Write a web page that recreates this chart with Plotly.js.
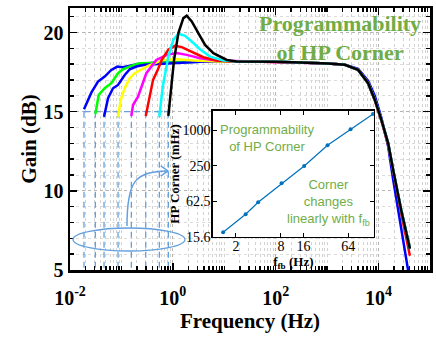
<!DOCTYPE html>
<html><head><meta charset="utf-8">
<script src="https://cdn.plot.ly/plotly-3.0.1.min.js"></script>
<style>html,body{margin:0;padding:0;background:#fff}#chart{width:436px;height:337px}</style>
</head><body><div id="chart"></div>
<script>
// ---------- data ----------
const curveColors = ['#0000FF', '#00FF00', '#0000FF', '#FFFF00', '#FF00FF', '#FF0000', '#00FFFF', '#000000'];

// low-frequency (high-pass) part of each curve: Hz, dB
const lowF1 = [0.0187, 0.026, 0.035, 0.0473, 0.0636, 0.0832, 0.107, 0.145, 0.21, 0.329, 0.515, 3.4];
const lowG1 = [15.15, 16.2, 16.9, 17.22, 17.64, 17.85, 17.81, 17.89, 18.02, 18.06, 18.1, 18.15];
const lowF2 = [0.0311, 0.0362, 0.0473, 0.0636, 0.0859, 0.107, 0.156, 0.227, 3.4];
const lowG2 = [14.85, 16.06, 16.48, 16.8, 17.43, 17.68, 17.89, 18.06, 18.15];
const lowF3 = [0.0459, 0.0549, 0.0686, 0.0859, 0.116, 0.145, 0.195, 0.284, 3.4];
const lowG3 = [14.68, 15.85, 16.48, 16.69, 17.32, 17.68, 17.85, 17.96, 18.15];
const lowF4 = [0.0859, 0.0969, 0.116, 0.145, 0.1815, 0.244, 0.329, 0.4775, 0.653, 1.19, 2.5, 7.15];
const lowG4 = [14.68, 15.74, 16.48, 17.11, 17.43, 17.64, 17.89, 18.1, 18.27, 18.32, 18.23, 18.17];
const lowF5 = [0.156, 0.168, 0.21, 0.263, 0.305, 0.382, 0.4775, 0.761, 1.19, 1.86, 3.38, 7.15];
const lowG5 = [14.73, 15.42, 15.95, 16.8, 17.43, 17.85, 18.27, 18.59, 18.7, 18.59, 18.38, 18.23];
const lowF6 = [0.297, 0.34, 0.412, 0.499, 0.608, 0.817, 1.10, 1.49, 2.33, 3.92, 7.15, 13];
const lowG6 = [14.73, 15.74, 17.01, 17.58, 18.27, 18.91, 19.16, 19.08, 18.8, 18.44, 18.23, 18.17];
const lowF7 = [0.546, 0.636, 0.817, 1.02, 1.28, 1.73, 2.33, 3.38, 5.29, 9.6, 17.5];
const lowG7 = [14.68, 16.58, 18.48, 19.54, 19.92, 19.79, 19.43, 18.95, 18.48, 18.23, 18.17];
const lowF8 = [0.817, 0.91, 1.055, 1.28, 1.6, 1.86, 2.33, 3.13, 4.23, 6.14, 11.2, 17.5];
const lowG8 = [14.73, 16.16, 18.27, 19.96, 20.91, 21.06, 20.7, 19.96, 19.22, 18.7, 18.27, 18.17];

// high-frequency (roll-off) part, shared frequencies
const highF = [30, 100, 300, 1046, 2210, 4010, 6277, 8472, 11390, 15370, 19230, 27530, 40630];
const highGBlack = [18.17, 18.15, 18.1, 18.05, 17.96, 17.64, 16.8, 15.74, 14.47, 13.0, 11.31, 8.78, 6.35];
const highGBlue = [18.17, 18.15, 18.1, 18.05, 17.97, 17.7, 16.95, 16.0, 14.6, 12.8, 10.7, 7.8, 4.3];
const highGGreen = [18.17, 18.15, 18.1, 18.05, 17.96, 17.64, 16.8, 15.74, 14.47, 13.0, 11.31, 8.8, 6.45];
const highGRed = [18.17, 18.15, 18.1, 18.05, 17.96, 17.64, 16.8, 15.7, 14.4, 12.9, 11.2, 8.6, 5.9];

const cornerGain = 15;   // dB level of the dashed corner markers
const axisFloor = 5;

// inset: feedback frequency vs HP corner
const fFb = [1.35, 2.7, 3.97, 8.17, 16.4, 33.7, 68.5, 137];
const hpCorner = [18.7, 37.8, 60.2, 126, 248, 556, 1037, 1877];

const xTickVals = [0.01, 1, 100, 10000];
const xTickText = ['10<sup>-2</sup>', '10<sup>0</sup>', '10<sup>2</sup>', '10<sup>4</sup>'];
const yTickVals = [5, 10, 15, 20];
const insetXTicks = [2, 8, 16, 64];
const insetYTicks = [15.6, 62.5, 250, 1000];
const insetYText = ['15.6', '62.5', '250', '1000'];

// ---------- build ----------
const lowFs = [lowF1, lowF2, lowF3, lowF4, lowF5, lowF6, lowF7, lowF8];
const lowGs = [lowG1, lowG2, lowG3, lowG4, lowG5, lowG6, lowG7, lowG8];
const highGs = [highGBlue, highGGreen, highGBlack, highGBlack, highGBlack, highGRed, highGBlack, highGBlack];

const serif = 'Liberation Serif, Times New Roman, serif';
const dashColor = 'rgb(100,160,222)';
const green = '#70AD47';

const traces = [];
// dashed corner markers
const startF = lowFs.map(a => a[0]);
const dX = [], dY = [];
startF.forEach(f => { dX.push(f, f, null); dY.push(cornerGain, axisFloor, null); });
dX.push(Math.min(...startF), Math.max(...startF));
dY.push(cornerGain, cornerGain);
traces.push({x: dX, y: dY, mode: 'lines', line: {color: dashColor, width: 1.3, dash: '6px,4px'},
  hoverinfo: 'skip', showlegend: false, xaxis: 'x', yaxis: 'y'});

for (let i = 0; i < 8; i++) {
  traces.push({
    x: lowFs[i].concat(highF), y: lowGs[i].concat(highGs[i]),
    mode: 'lines', line: {color: curveColors[i], width: 2.5},
    showlegend: false, xaxis: 'x', yaxis: 'y'
  });
}
traces.push({x: fFb, y: hpCorner, mode: 'lines+markers', line: {color: '#0072BD', width: 1.2},
  marker: {size: 4, color: '#0072BD'}, showlegend: false, xaxis: 'x2', yaxis: 'y2'});

const minorX = [];
for (let d = -2; d <= 4; d++) for (let k = 1; k <= 9; k++) {
  if (k === 1 && d % 2 === 0) continue;
  minorX.push(k * Math.pow(10, d));
}

const tf = (size, bold) => ({family: serif, size: size, color: '#000', weight: bold ? 'bold' : 'normal'});

const layout = {
  width: 436, height: 337,
  margin: {l: 70, r: 6, t: 8, b: 67},
  paper_bgcolor: '#fff', plot_bgcolor: '#fff',
  showlegend: false,
  xaxis: {
    type: 'log', range: [-2, 5], domain: [0, 1], anchor: 'y',
    tickmode: 'array', tickvals: xTickVals, ticktext: xTickText,
    ticks: 'inside', ticklen: 7, tickwidth: 1.5, tickcolor: '#000',
    showline: true, linewidth: 2.5, linecolor: '#000', mirror: 'ticks',
    showgrid: true, gridcolor: '#b4b4b4', griddash: 'dot', gridwidth: 1.2, zeroline: false,
    tickfont: tf(20, true), ticklabelstandoff: 8,
    title: {text: 'Frequency (Hz)', font: tf(21, true), standoff: 6},
    minor: {tickmode: 'array', tickvals: minorX, ticks: 'inside', ticklen: 4, tickcolor: '#000',
      showgrid: true, gridcolor: '#d2d2d2', griddash: 'dot', gridwidth: 1}
  },
  yaxis: {
    range: [5, 21.55], domain: [0, 1], anchor: 'x',
    tickmode: 'array', tickvals: yTickVals,
    ticks: 'inside', ticklen: 7, tickwidth: 1.5, tickcolor: '#000',
    showline: true, linewidth: 2.5, linecolor: '#000', mirror: 'ticks',
    showgrid: true, gridcolor: '#b4b4b4', griddash: 'dot', gridwidth: 1.2, zeroline: false,
    tickfont: tf(20, true),
    title: {text: 'Gain (dB)', font: tf(21, true), standoff: 1},
    minor: {dtick: 1, ticks: 'inside', ticklen: 4, tickcolor: '#000',
      showgrid: true, gridcolor: '#dcdcdc', griddash: 'dot', gridwidth: 1}
  },
  xaxis2: {
    type: 'log', range: [-0.0066, 2.147], domain: [0.397, 0.844], anchor: 'y2',
    tickmode: 'array', tickvals: insetXTicks,
    ticks: 'inside', ticklen: 4, tickcolor: '#000',
    showline: true, linewidth: 1.5, linecolor: '#000', mirror: 'ticks',
    showgrid: false, zeroline: false, tickfont: tf(14, false), ticklabelstandoff: -4,
    title: {text: 'f<sub>fb</sub> (Hz)', font: tf(13, true), standoff: 0}
  },
  yaxis2: {
    type: 'log', range: [1.193, 3.324], domain: [0.126, 0.607], anchor: 'x2',
    tickmode: 'array', tickvals: insetYTicks, ticktext: insetYText,
    ticks: 'inside', ticklen: 4, tickcolor: '#000',
    showline: true, linewidth: 1.5, linecolor: '#000', mirror: 'ticks',
    showgrid: false, zeroline: false, tickfont: tf(14, false), ticklabelstandoff: -2,
    title: {text: 'HP Corner (mHz)', font: tf(13, true), standoff: 0}
  },
  shapes: [
    {type: 'circle', xref: 'paper', yref: 'paper', x0: 0.0083, x1: 0.3194, y0: 0.0725, y1: 0.1603,
      line: {color: dashColor, width: 1.3}},
    {type: 'path', xref: 'paper', yref: 'paper',
      path: 'M 0.1583 0.1679 C 0.1583 0.3435 0.1806 0.374 0.2722 0.3779',
      line: {color: dashColor, width: 1.5}},
    {type: 'path', xref: 'paper', yref: 'paper',
      path: 'M 0.252 0.397 L 0.2722 0.3779 L 0.252 0.3588',
      line: {color: dashColor, width: 1.5}}
  ],
  annotations: [
    {xref: 'paper', yref: 'paper', x: 0.75, y: 0.887, xanchor: 'center', yanchor: 'middle',
      text: 'Programmability<br>of HP Corner', showarrow: false,
      font: {family: serif, size: 22, color: green, weight: 'bold'}},
    {xref: 'paper', yref: 'paper', x: 0.547, y: 0.5057, xanchor: 'center', yanchor: 'middle',
      text: 'Programmability<br>of HP Corner', showarrow: false,
      font: {family: 'Liberation Sans Narrow, Arial Narrow, Liberation Sans, sans-serif', size: 13, color: green}},
    {xref: 'paper', yref: 'paper', x: 0.7167, y: 0.2595, xanchor: 'center', yanchor: 'middle',
      text: 'Corner<br>changes<br>linearly with f<sub>fb</sub>', showarrow: false,
      font: {family: 'Liberation Sans Narrow, Arial Narrow, Liberation Sans, sans-serif', size: 13, color: green}}
  ]
};

Plotly.newPlot('chart', traces, layout, {staticPlot: true, displayModeBar: false});
</script>
</body></html>
